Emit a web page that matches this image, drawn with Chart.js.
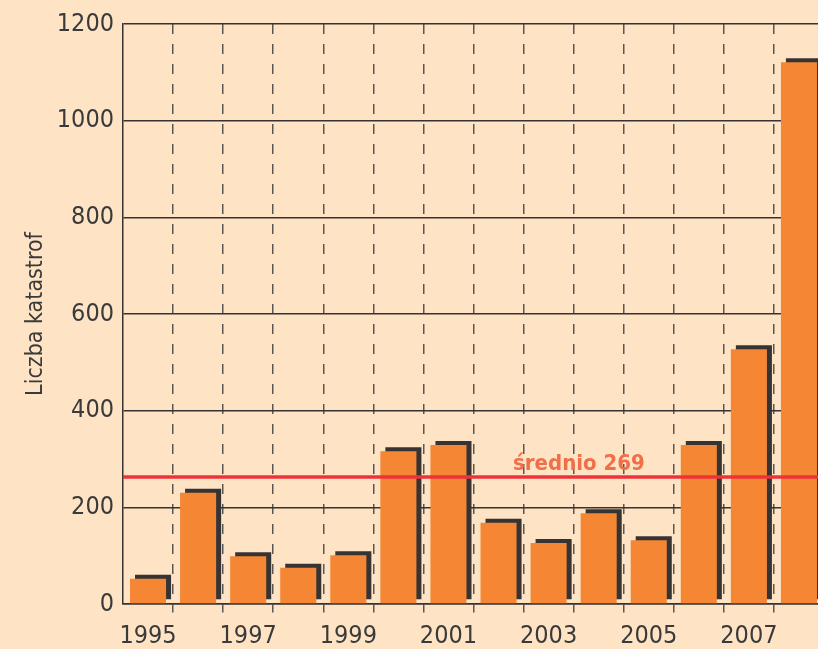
<!DOCTYPE html>
<html>
<head>
<meta charset="utf-8">
<script src="https://cdn.jsdelivr.net/npm/chart.js@4.4.0/dist/chart.umd.min.js"></script>
<style>
  html, body { margin: 0; padding: 0; background: #fee4c5; overflow: hidden; }
  #wrap { width: 830px; height: 649px; }
</style>
</head>
<body>
<div id="wrap"><canvas id="chart" width="830" height="649"></canvas></div>
<script>
// DATA
var years = ['1995', '1996', '1997', '1998', '1999', '2000', '2001',
             '2002', '2003', '2004', '2005', '2006', '2007', '2008'];
var disasters = [52, 230, 99, 75, 101, 316, 329, 168, 126, 188, 132, 329, 527, 1121];
var averageValue = 263;
var averageLabel = 'średnio 269';
var yTicks = [0, 200, 400, 600, 800, 1000, 1200];

var FONT = "'DejaVu Sans Condensed', 'Liberation Sans', sans-serif";
var TEXT = '#3a3a3a';

// dark offset block behind every bar
var barShadow = {
  id: 'barShadow',
  beforeDatasetDraw: function (chart) {
    var ctx = chart.ctx;
    ctx.save();
    ctx.shadowColor = '#353333';
    ctx.shadowBlur = 0;
    ctx.shadowOffsetX = 5;
    ctx.shadowOffsetY = -4;
  },
  afterDatasetDraw: function (chart) {
    chart.ctx.restore();
  }
};

// average line + its label
var averageLine = {
  id: 'averageLine',
  beforeDatasetsDraw: function (chart) {
    var ctx = chart.ctx, area = chart.chartArea;
    var y = chart.scales.y.getPixelForValue(averageValue);
    ctx.save();
    ctx.font = 'bold 22px ' + FONT;
    ctx.fillStyle = '#f06e48';
    ctx.textAlign = 'left';
    ctx.textBaseline = 'alphabetic';
    ctx.fillText(averageLabel, area.left + 390, y - 7);
    ctx.restore();
  },
  afterDatasetsDraw: function (chart) {
    var ctx = chart.ctx, area = chart.chartArea;
    var y = chart.scales.y.getPixelForValue(averageValue);
    ctx.save();
    ctx.strokeStyle = '#ee3338';
    ctx.lineWidth = 3.5;
    ctx.beginPath();
    ctx.moveTo(area.left, y);
    ctx.lineTo(area.right, y);
    ctx.stroke();
    ctx.restore();
  }
};

var ctx = document.getElementById('chart').getContext('2d');
var chart = new Chart(ctx, {
  type: 'bar',
  data: {
    labels: years,
    datasets: [{
      label: 'Liczba katastrof',
      data: disasters,
      backgroundColor: '#f58634',
      borderWidth: 0,
      barPercentage: 0.72,
      categoryPercentage: 1.0
    }]
  },
  options: {
    responsive: false,
    animation: false,
    layout: { padding: { top: 24, right: 6, left: 0, bottom: 0 } },
    plugins: {
      legend: { display: false },
      tooltip: { enabled: false }
    },
    scales: {
      x: {
        offset: true,
        afterFit: function (scale) { scale.height = 45; },
        grid: {
          offset: true,
          color: function (c) { return c.index === 0 ? 'rgba(0,0,0,0)' : '#5a5654'; },
          tickColor: function (c) { return c.index === 0 ? 'rgba(0,0,0,0)' : '#5a5654'; },
          lineWidth: 1.5,
          tickWidth: 1.5,
          tickLength: 12,
          tickBorderDash: [10, 10],
          tickBorderDashOffset: 2
        },
        border: { display: true, color: '#353333', width: 1.5, dash: [10, 10] },
        ticks: {
          color: TEXT,
          font: { family: FONT, size: 25 },
          padding: 5,
          autoSkip: false,
          maxRotation: 0,
          callback: function (val, i) { return i % 2 === 0 ? years[i] : ''; }
        }
      },
      y: {
        min: 0,
        max: 1200,
        afterFit: function (scale) { scale.width = 123; },
        afterBuildTicks: function (scale) {
          scale.ticks = yTicks.map(function (v) { return { value: v }; });
        },
        grid: { color: '#353333', lineWidth: 1.5, drawTicks: false },
        border: { display: true, color: '#353333', width: 1.5 },
        ticks: {
          color: TEXT,
          font: { family: FONT, size: 25 },
          padding: 9,
          callback: function (v) { return String(v); }
        },
        title: {
          display: true,
          text: 'Liczba katastrof',
          color: TEXT,
          font: { family: FONT, size: 23 },
          padding: { top: 22, bottom: 0 }
        }
      }
    }
  },
  plugins: [barShadow, averageLine]
});
</script>
</body>
</html>
